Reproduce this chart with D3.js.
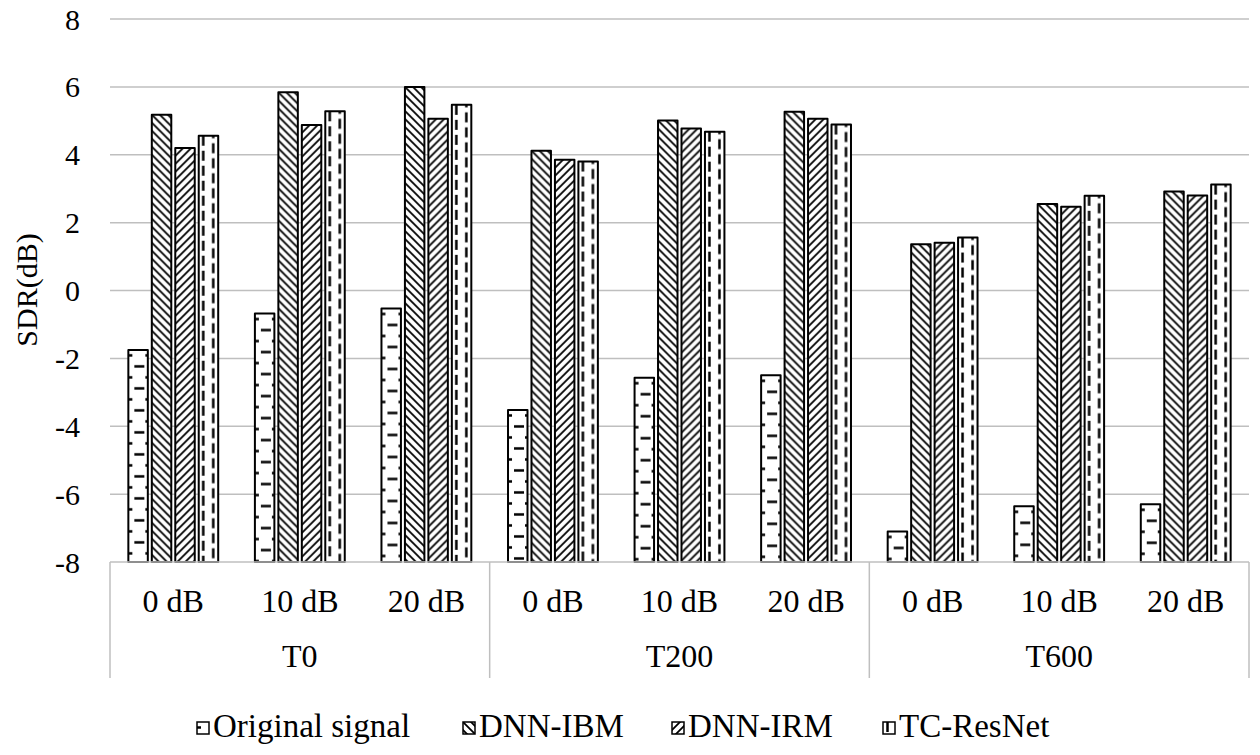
<!DOCTYPE html>
<html>
<head>
<meta charset="utf-8">
<script src="https://cdn.jsdelivr.net/npm/d3@7"></script>
<style>
  html, body { margin: 0; padding: 0; background: #fff; }
  svg { display: block; }
</style>
</head>
<body>
<svg id="chart" width="1260" height="755"></svg>
<script>
const groups = ["T0", "T200", "T600"];
const levels = ["0 dB", "10 dB", "20 dB"];
const series = ["Original signal", "DNN-IBM", "DNN-IRM", "TC-ResNet"];
const original = [-1.75, -0.68, -0.53, -3.52, -2.57, -2.50, -7.10, -6.36, -6.30];
const dnnIBM   = [5.18, 5.84, 6.00, 4.12, 5.01, 5.27, 1.36, 2.55, 2.92];
const dnnIRM   = [4.20, 4.88, 5.06, 3.85, 4.77, 5.06, 1.41, 2.47, 2.80];
const tcResNet = [4.56, 5.28, 5.47, 3.80, 4.68, 4.89, 1.56, 2.79, 3.12];
const yTicks = [-8, -6, -4, -2, 0, 2, 4, 6, 8];

const seriesValues = [original, dnnIBM, dnnIRM, tcResNet];
const patIds = ["pOrig", "pIBM", "pIRM", "pTC"];
const FONT = "'Liberation Serif', 'Times New Roman', 'DejaVu Serif', serif";

const svg = d3.select("#chart").attr("font-family", FONT);
const mLeft = 110, mRight = 1249, mTop = 19, mBottom = 562;

const xg = d3.scaleBand().domain(groups).range([mLeft, mRight]).padding(0);
const cats = [];
groups.forEach(g => levels.forEach(l => cats.push(g + "|" + l)));
const xc = d3.scaleBand().domain(cats).range([mLeft, mRight]).padding(0);
const bwC = xc.bandwidth();
const xs = d3.scaleBand().domain(series).range([bwC * 0.145, bwC * 0.855]).paddingInner(0.17).paddingOuter(0);
const y = d3.scaleLinear().domain([-8, 8]).range([mBottom, mTop]);

// patterns
const defs = svg.append("defs");
// Original signal: dashed horizontal
let p = defs.append("pattern").attr("id", "pOrig").attr("patternUnits", "userSpaceOnUse")
  .attr("width", 20).attr("height", 22);
p.append("rect").attr("width", 20).attr("height", 22).attr("fill", "#fff");
p.append("line").attr("x1", 6).attr("x2", 16).attr("y1", 16.5).attr("y2", 16.5).attr("stroke", "#000").attr("stroke-width", 2.5);
p.append("line").attr("x1", 0).attr("x2", 4).attr("y1", 5.5).attr("y2", 5.5).attr("stroke", "#000").attr("stroke-width", 2.5);
p.append("line").attr("x1", 17).attr("x2", 20).attr("y1", 5.5).attr("y2", 5.5).attr("stroke", "#000").attr("stroke-width", 2.5);
// DNN-IBM: downward diagonal "\"
p = defs.append("pattern").attr("id", "pIBM").attr("patternUnits", "userSpaceOnUse")
  .attr("width", 8).attr("height", 8);
p.append("rect").attr("width", 8).attr("height", 8).attr("fill", "#fff");
p.append("path").attr("d", "M-2,-2 L10,10 M-2,6 L2,10 M6,-2 L10,2").attr("stroke", "#000").attr("stroke-width", 1.8);
// DNN-IRM: upward diagonal "/"
p = defs.append("pattern").attr("id", "pIRM").attr("patternUnits", "userSpaceOnUse")
  .attr("width", 8).attr("height", 8);
p.append("rect").attr("width", 8).attr("height", 8).attr("fill", "#fff");
p.append("path").attr("d", "M-2,10 L10,-2 M-2,2 L2,-2 M6,10 L10,6").attr("stroke", "#000").attr("stroke-width", 1.8);
// TC-ResNet: dashed vertical
p = defs.append("pattern").attr("id", "pTC").attr("patternUnits", "userSpaceOnUse")
  .attr("width", 20).attr("height", 15);
p.append("rect").attr("width", 20).attr("height", 15).attr("fill", "#fff");
p.append("line").attr("x1", 4.5).attr("x2", 4.5).attr("y1", 0).attr("y2", 10).attr("stroke", "#000").attr("stroke-width", 2.5);
p.append("line").attr("x1", 14.5).attr("x2", 14.5).attr("y1", 7.5).attr("y2", 15).attr("stroke", "#000").attr("stroke-width", 2.5);
p.append("line").attr("x1", 14.5).attr("x2", 14.5).attr("y1", 0).attr("y2", 2.5).attr("stroke", "#000").attr("stroke-width", 2.5);

// gridlines
svg.append("g").selectAll("line").data(yTicks.filter(t => t > -8)).join("line")
  .attr("x1", mLeft).attr("x2", mRight)
  .attr("y1", d => y(d)).attr("y2", d => y(d))
  .attr("stroke", "#bfbfbf").attr("stroke-width", 1.5);

// y tick labels
svg.append("g").selectAll("text").data(yTicks).join("text")
  .attr("font-family", FONT)
  .attr("x", 80).attr("y", d => y(d)).attr("dy", "0.35em")
  .attr("text-anchor", "end").attr("font-size", 30)
  .text(d => d);

// y title
svg.append("text").attr("font-family", FONT)
  .attr("transform", "translate(37,290) rotate(-90)")
  .attr("text-anchor", "middle").attr("font-size", 30).text("SDR(dB)");

// bars
const barG = svg.append("g");
cats.forEach((c, i) => {
  series.forEach((s, k) => {
    const v = seriesValues[k][i];
    const gx = xc(c) + xs(s);
    const gy = y(v);
    barG.append("g").attr("transform", `translate(${gx},${gy})`)
      .append("rect")
      .attr("x", 0).attr("y", 0)
      .attr("width", xs.bandwidth())
      .attr("height", y(-8) - gy)
      .attr("fill", `url(#${patIds[k]})`)
      .attr("stroke", "#000").attr("stroke-width", 2)
      .attr("stroke-linejoin", "round");
  });
});

// category axis
const axisColor = "#bfbfbf";
svg.append("line").attr("x1", mLeft).attr("x2", mRight).attr("y1", mBottom).attr("y2", mBottom)
  .attr("stroke", axisColor).attr("stroke-width", 1.5);
const seps = groups.map(g => xg(g)).concat([mRight]);
svg.append("g").selectAll("line").data(seps).join("line")
  .attr("x1", d => d).attr("x2", d => d).attr("y1", mBottom).attr("y2", 678)
  .attr("stroke", axisColor).attr("stroke-width", 1.5);

svg.append("g").selectAll("text").data(cats).join("text")
  .attr("font-family", FONT)
  .attr("x", d => xc(d) + bwC / 2).attr("y", 612)
  .attr("text-anchor", "middle").attr("font-size", 32)
  .text(d => d.split("|")[1]);

svg.append("g").selectAll("text").data(groups).join("text")
  .attr("font-family", FONT)
  .attr("x", d => xg(d) + xg.bandwidth() / 2).attr("y", 667)
  .attr("text-anchor", "middle").attr("font-size", 32)
  .text(d => d);

// legend
const legX = [197, 463, 672, 883];
const leg = svg.append("g");
series.forEach((s, k) => {
  const g = leg.append("g").attr("transform", `translate(${legX[k]},722)`);
  g.append("rect").attr("width", 12).attr("height", 12)
    .attr("fill", `url(#${patIds[k]})`).attr("stroke", "#000").attr("stroke-width", 1.5);
  g.append("text").attr("font-family", FONT)
    .attr("x", 16).attr("y", 15).attr("font-size", 33).text(s);
});
</script>
</body>
</html>
